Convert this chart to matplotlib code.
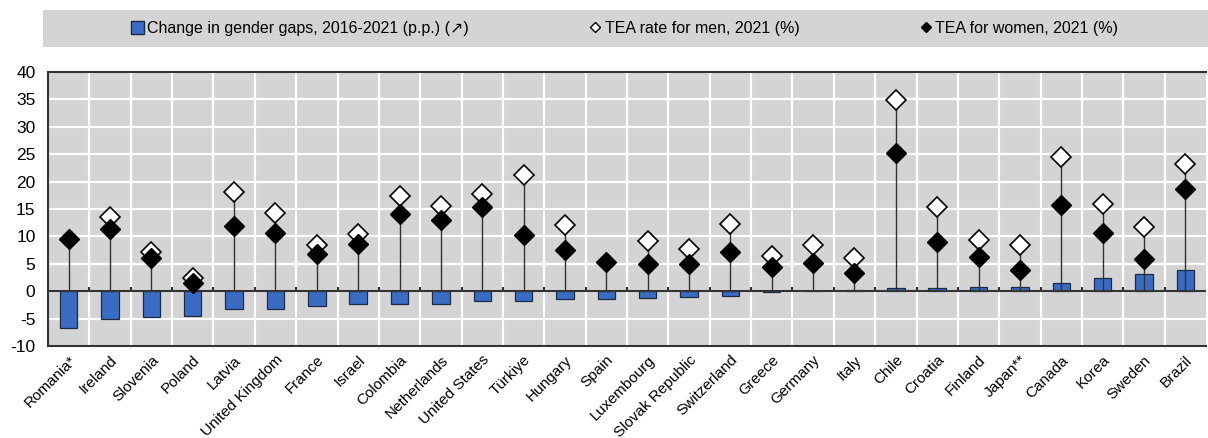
import numpy as np
import matplotlib
matplotlib.use('Agg')
import matplotlib.pyplot as plt
from matplotlib.patches import Rectangle
from matplotlib.lines import Line2D

plt.rcParams['font.family'] = ['Liberation Sans', 'DejaVu Sans']
plt.rcParams['axes.unicode_minus'] = False

countries = ['Romania*', 'Ireland', 'Slovenia', 'Poland', 'Latvia', 'United Kingdom',
             'France', 'Israel', 'Colombia', 'Netherlands', 'United States', 'Türkiye',
             'Hungary', 'Spain', 'Luxembourg', 'Slovak Republic', 'Switzerland', 'Greece',
             'Germany', 'Italy', 'Chile', 'Croatia', 'Finland', 'Japan**', 'Canada',
             'Korea', 'Sweden', 'Brazil']
gap_change = [-6.7, -5.0, -4.7, -4.6, -3.2, -3.2, -2.75, -2.4, -2.4, -2.4, -1.8, -1.7,
              -1.5, -1.5, -1.2, -1.0, -0.8, -0.1, 0.1, 0.15, 0.5, 0.6, 0.75, 0.75,
              1.5, 2.45, 3.2, 3.8]
tea_men = [np.nan, 13.6, 7.2, 2.4, 18.1, 14.2, 8.4, 10.4, 17.4, 15.6, 17.8, 21.2,
           12.1, np.nan, 9.2, 7.7, 12.2, 6.5, 8.4, 6.1, 34.8, 15.4, 9.3, 8.4,
           24.4, 15.9, 11.8, 23.3]
tea_women = [9.6, 11.3, 6.0, 1.5, 11.9, 10.7, 6.8, 8.7, 14.0, 13.0, 15.3, 10.3,
             7.5, 5.4, 5.0, 4.9, 7.1, 4.45, 5.2, 3.35, 25.3, 9.0, 6.3, 3.85,
             15.75, 10.7, 5.8, 18.6]

x = np.arange(len(countries))
men = np.array(tea_men)
women = np.array(tea_women)
tops = np.fmax(men, women)

bg = '#d4d4d4'
blue = '#3a6cc4'

fig = plt.figure(figsize=(12.08, 4.38), dpi=100)
ax = fig.add_axes([48/1208, 1-346/438, 1158/1208, 274/438])
ax.set_facecolor(bg)

# legend band
fig.patches.append(Rectangle((43/1208, 1-47/438), 1-43/1208, 37/438,
                             transform=fig.transFigure, facecolor=bg, edgecolor='none', zorder=0))

ax.set_xlim(-0.5, len(countries)-0.5)
ax.set_ylim(-10, 40)
ax.set_yticks(np.arange(-10, 41, 5))
ax.set_xticks(x)
ax.set_xticklabels(countries, rotation=45, ha='right', rotation_mode='anchor', fontsize=11)
ax.tick_params(axis='both', length=0)
ax.tick_params(axis='y', labelsize=12.5, pad=9)
ax.tick_params(axis='x', pad=5)

for b in np.arange(-0.5, len(countries), 1.0)[1:-1]:
    ax.axvline(b, color='white', lw=1.6, zorder=1)
for yv in np.arange(-5, 40, 5):
    ax.axhline(yv, color='white', lw=1.6, zorder=1)

ax.bar(x, gap_change, width=0.42, color=blue, edgecolor='#1c2a44', lw=0.9, zorder=3)
ax.axhline(0, color='#333333', lw=1.5, zorder=4)
ax.vlines(np.arange(0.5, len(countries)-1, 1.0), 0, 0.7, color='#333333', lw=1.5, zorder=4)

ax.vlines(x, 0, tops, color='#333333', lw=1.0, zorder=5)
ax.plot(x, men, 'D', ms=10, mfc='white', mec='black', mew=1.2, ls='none', zorder=6)
ax.plot(x, women, 'D', ms=10, mfc='black', mec='black', ls='none', zorder=7)

for s in ax.spines.values():
    s.set_color('#333333')
    s.set_linewidth(1.5)
ax.spines['right'].set_visible(False)

handles = [Rectangle((0, 0), 1, 1, facecolor=blue, edgecolor='#1c2a44'),
           Line2D([], [], marker='D', ms=5.5, mfc='white', mec='black', ls='none'),
           Line2D([], [], marker='D', ms=5.5, mfc='black', mec='black', ls='none')]
labels = ['Change in gender gaps, 2016-2021 (p.p.) (\u2197)',
          'TEA rate for men, 2021 (%)', 'TEA for women, 2021 (%)']
fig.legend(handles, labels, loc='center', bbox_to_anchor=(625/1208, 1-28.5/438),
           ncol=3, frameon=False, fontsize=11.5, columnspacing=7.5, handlelength=0.8,
           handletextpad=0.2, handleheight=0.8)

fig.savefig('out.png', dpi=100)
